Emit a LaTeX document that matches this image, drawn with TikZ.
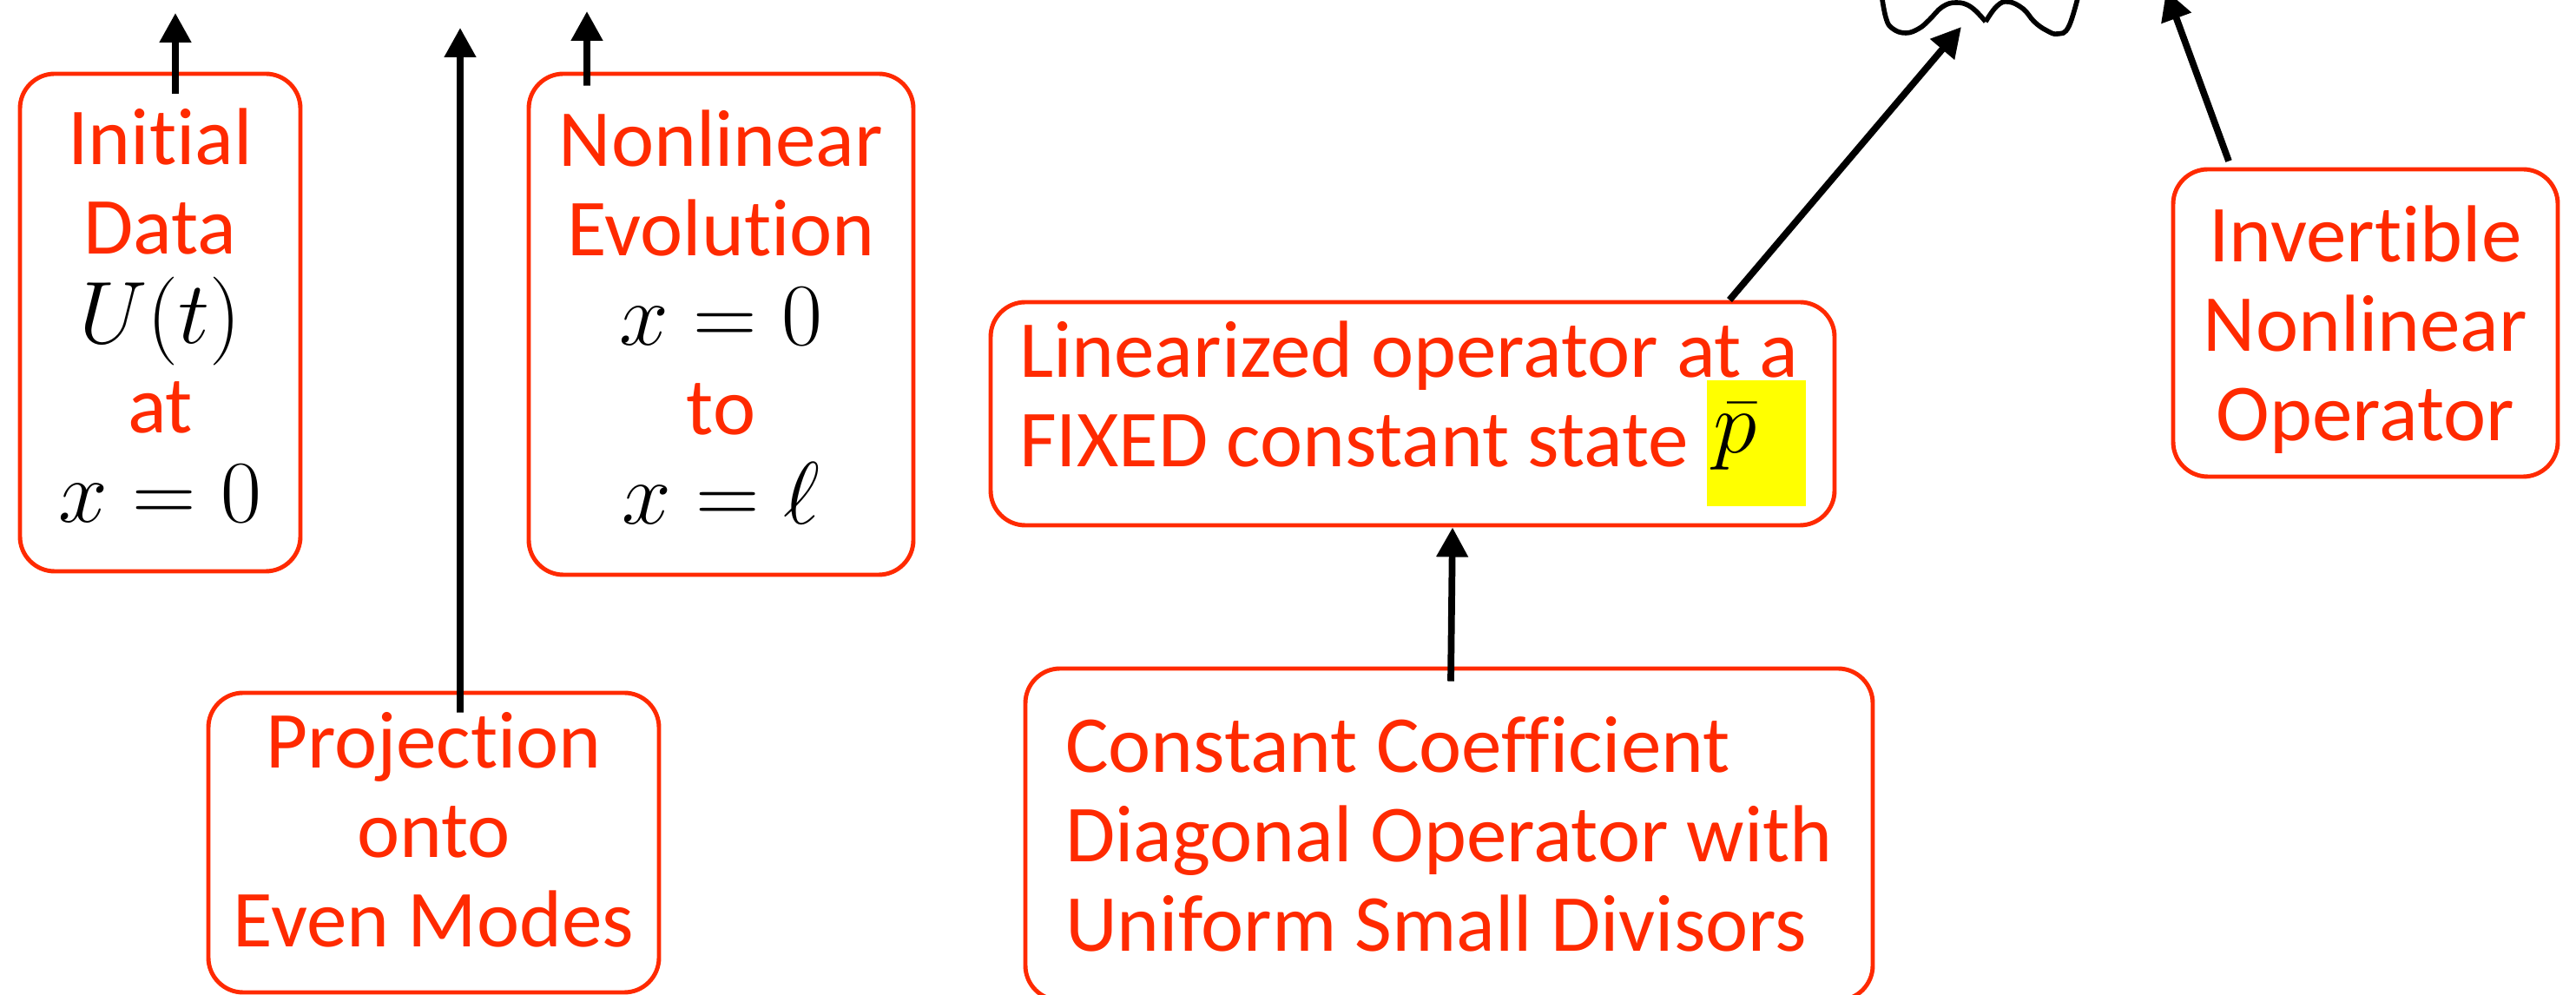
\RequirePackage{fix-cm}
\documentclass[tikz,border=0pt]{standalone}
\usepackage[no-math]{fontspec}
\setmainfont{Carlito}[Ligatures=NoCommon]
\usetikzlibrary{arrows.meta, calc}
\definecolor{SlideRed}{HTML}{FF2A00}
\definecolor{Highlight}{HTML}{FFFF00}
% black math inside the red boxes, a bit larger than the text
\newcommand{\mth}[1]{{\color{black}\fontsize{29}{29.3}\selectfont$#1$}}
\newcommand{\hlmath}[1]{\raisebox{0pt}[22pt][13pt]{\fboxsep=0pt\colorbox{Highlight}{%
    \rule[-13pt]{0pt}{41.4pt}\hspace{2pt}\raisebox{4.5pt}{\mth{#1}}\hspace{16pt}}}}

\begin{document}
\begin{tikzpicture}[
    opbox/.style={draw=SlideRed, line width=1.4pt, rounded corners=4mm,
        text=SlideRed, align=center, inner sep=0pt,
        font=\fontsize{26.5}{29.3}\selectfont},
    flow/.style={-{Triangle[length=3.4mm, width=3.5mm]}, line width=2.2pt}
]
\clip (0,0) rectangle (29.67,11.46);

% left column
\node[opbox, minimum width=3.23cm, minimum height=5.73cm, text depth=4.5pt] (init) at (1.845,7.745)
    {Initial\\Data\\\mth{U(t)}\\at\\\mth{x=0}};
\node[opbox, minimum width=4.43cm, minimum height=5.77cm, text depth=4.5pt] (evol) at (8.305,7.725)
    {Nonlinear\\Evolution\\\mth{x=0}\\to\\\mth{x=\ell}};
\node[opbox, minimum width=5.19cm, minimum height=3.45cm, text depth=8.6pt] (proj) at (4.995,1.755)
    {Projection\\onto\\Even Modes};

% middle column
\node[opbox, align=left, minimum width=9.72cm, minimum height=2.57cm, text depth=13pt] (lin) at (16.27,6.695)
    {Linearized operator at a\\FIXED constant state \hlmath{\bar p}};
\node[opbox, align=left, minimum width=9.76cm, minimum height=3.82cm] (diag) at (16.69,1.85)
    {Constant Coefficient\\Diagonal Operator with\\Uniform Small Divisors};

% right column
\node[opbox, minimum width=4.43cm, minimum height=3.54cm, text depth=0pt] (inv) at (27.245,7.74)
    {Invertible\\Nonlinear\\Operator};

% wavy sign at the top edge
\draw[line width=1.6pt] plot[smooth, tension=0.7] coordinates {
    (21.66,11.6) (21.72,11.26) (21.80,11.13) (21.95,11.08) (22.10,11.13)
    (22.22,11.23) (22.37,11.38) (22.53,11.43) (22.70,11.38) (22.87,11.21)};
\draw[line width=1.6pt] plot[smooth, tension=0.7] coordinates {
    (22.87,11.21) (23.00,11.39) (23.13,11.44) (23.30,11.36) (23.43,11.21)
    (23.57,11.11) (23.70,11.07) (23.83,11.16) (23.96,11.6)};

% free arrow ends
\coordinate (initout) at (2.02,11.31);
\coordinate (projout) at (5.30,11.14);
\coordinate (evolout) at (6.76,11.33);
\coordinate (wave) at (22.59,11.15);
\coordinate (invout) at (24.95,11.57);

\draw[flow] ($(init.north)+(0.175,-0.25)$) -- (initout);
\draw[flow] ($(proj.north)+(0.305,-0.25)$) -- (projout);
\draw[flow] ($(evol.north)+(-1.545,-0.16)$) -- (evolout);
\draw[flow] ($(diag.north)+(0.02,-0.17)$) -- ($(lin.south)+(0.46,0)$);
\draw[flow] ($(lin.north)+(3.65,0)$) -- (wave);
\draw[flow] ($(inv.north)+(-1.575,0.07)$) -- (invout);
\end{tikzpicture}
\end{document}
